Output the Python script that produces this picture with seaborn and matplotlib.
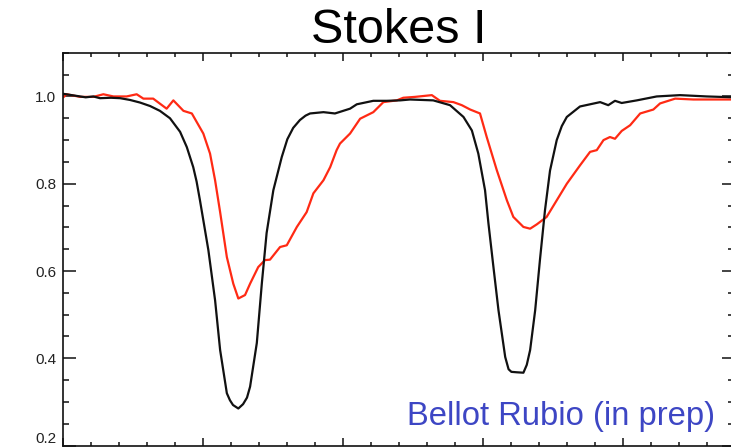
import numpy as np
import pandas as pd
import matplotlib
matplotlib.use("Agg")
import matplotlib.pyplot as plt
from matplotlib.ticker import MultipleLocator
import seaborn as sns

# ---- data (wavelength offset, arbitrary units; normalized intensity) ----
black_x = [0.000, 0.040, 0.080, 0.107, 0.131, 0.170, 0.203, 0.238, 0.274, 0.310,
           0.345, 0.381, 0.417, 0.441, 0.452, 0.464, 0.476, 0.488, 0.518, 0.542,
           0.560, 0.584, 0.595, 0.606, 0.625, 0.642, 0.656, 0.667, 0.691, 0.709,
           0.726, 0.750, 0.780, 0.800, 0.821, 0.845, 0.865, 0.881, 0.929, 0.970,
           1.024, 1.048, 1.107, 1.155, 1.203, 1.238, 1.321, 1.381, 1.429, 1.459,
           1.482, 1.506, 1.518, 1.536, 1.554, 1.578, 1.590, 1.600, 1.619, 1.643,
           1.655, 1.667, 1.685, 1.702, 1.720, 1.738, 1.762, 1.780, 1.798, 1.845,
           1.917, 1.946, 1.970, 1.994, 2.048, 2.119, 2.202, 2.298, 2.395]
black_y = [1.006, 1.002, 0.998, 1.000, 0.996, 0.997, 0.996, 0.992, 0.986, 0.978,
           0.967, 0.950, 0.919, 0.884, 0.862, 0.838, 0.805, 0.762, 0.648, 0.533,
           0.419, 0.320, 0.304, 0.293, 0.285, 0.295, 0.310, 0.335, 0.435, 0.572,
           0.687, 0.785, 0.861, 0.902, 0.928, 0.946, 0.956, 0.961, 0.964, 0.961,
           0.972, 0.982, 0.990, 0.990, 0.991, 0.993, 0.991, 0.980, 0.953, 0.922,
           0.869, 0.785, 0.710, 0.609, 0.510, 0.403, 0.375, 0.369, 0.368, 0.367,
           0.385, 0.419, 0.510, 0.625, 0.739, 0.830, 0.900, 0.932, 0.953, 0.977,
           0.987, 0.980, 0.990, 0.985, 0.991, 1.000, 1.003, 1.000, 0.998]

red_x = [0.000, 0.012, 0.060, 0.107, 0.143, 0.179, 0.226, 0.262, 0.286, 0.321,
         0.369, 0.393, 0.429, 0.459, 0.500, 0.524, 0.542, 0.560, 0.584, 0.607,
         0.625, 0.649, 0.667, 0.696, 0.720, 0.738, 0.774, 0.798, 0.834, 0.869,
         0.893, 0.929, 0.953, 0.976, 0.988, 1.024, 1.060, 1.107, 1.143, 1.191,
         1.214, 1.256, 1.316, 1.345, 1.393, 1.423, 1.453, 1.488, 1.512, 1.548,
         1.584, 1.607, 1.643, 1.667, 1.691, 1.726, 1.762, 1.798, 1.845, 1.881,
         1.905, 1.929, 1.952, 1.970, 1.994, 2.024, 2.060, 2.107, 2.131, 2.185,
         2.250, 2.310, 2.395]
red_y = [0.998, 1.005, 0.999, 0.999, 1.005, 1.000, 1.000, 1.005, 0.995, 0.995,
         0.972, 0.991, 0.967, 0.961, 0.915, 0.869, 0.808, 0.735, 0.632, 0.571,
         0.537, 0.545, 0.571, 0.609, 0.625, 0.626, 0.655, 0.659, 0.701, 0.735,
         0.778, 0.808, 0.838, 0.877, 0.892, 0.915, 0.949, 0.964, 0.987, 0.991,
         0.997, 0.999, 1.003, 0.990, 0.987, 0.980, 0.970, 0.961, 0.907, 0.831,
         0.762, 0.724, 0.701, 0.697, 0.707, 0.724, 0.762, 0.800, 0.842, 0.873,
         0.877, 0.900, 0.907, 0.903, 0.921, 0.934, 0.961, 0.970, 0.984, 0.995,
         0.993, 0.993, 0.993]

y_ticks = [0.2, 0.4, 0.6, 0.8, 1.0]
y_ticklabels = ["0.2", "0.4", "0.6", "0.8", "1.0"]
title_text = "Stokes I"
credit_text = "Bellot Rubio (in prep)"

df = pd.concat([
    pd.DataFrame({"x": black_x, "I": black_y, "series": "black"}),
    pd.DataFrame({"x": red_x, "I": red_y, "series": "red"}),
])

sns.set_theme(style="ticks")
plt.rcParams["font.family"] = ["Liberation Sans", "DejaVu Sans"]

W, H = 731, 448
fig = plt.figure(figsize=(W / 100, H / 100), dpi=100)
ax = fig.add_axes([63.3 / W, (H - 445.6) / H, (734 - 63.3) / W, (445.6 - 52.8) / H])

sns.lineplot(data=df, x="x", y="I", hue="series",
             palette={"black": "#111111", "red": "#ff2a14"},
             hue_order=["red", "black"],
             linewidth=1.6, legend=False, ax=ax, sort=False, estimator=None)

ax.set_xlim(0, 2.395)
ax.set_ylim(0.2, 1.1)
ax.xaxis.set_major_locator(MultipleLocator(0.5))
ax.xaxis.set_minor_locator(MultipleLocator(0.1))
ax.set_yticks(y_ticks)
ax.set_yticklabels(y_ticklabels)
ax.yaxis.set_minor_locator(MultipleLocator(0.05))
ax.set_xlabel("")
ax.set_ylabel("")

for s in ax.spines.values():
    s.set_visible(True)
    s.set_linewidth(1.2)
    s.set_color("#111111")

ax.tick_params(axis="x", which="major", direction="in", length=6, width=1.1,
               top=True, bottom=True, labelbottom=False, color="#111111")
ax.tick_params(axis="x", which="minor", direction="in", length=2.8, width=1.1,
               top=True, bottom=True, color="#111111")
ax.tick_params(axis="y", which="major", direction="in", length=9, width=1.1,
               left=True, right=True, labelsize=11, pad=5, color="#111111",
               labelcolor="#222222")
ax.tick_params(axis="y", which="minor", direction="in", length=4.6, width=1.1,
               left=True, right=True, color="#111111")

fig.canvas.draw()
ax.get_yticklabels()[0].set_va("bottom")

ax.set_title(title_text, fontsize=35, pad=3.5, color="black")

fig.text(715 / W, (H - 425) / H, credit_text, ha="right", va="baseline",
         color="#3d46c4", fontsize=23.6)

fig.savefig("out.png", dpi=100)
